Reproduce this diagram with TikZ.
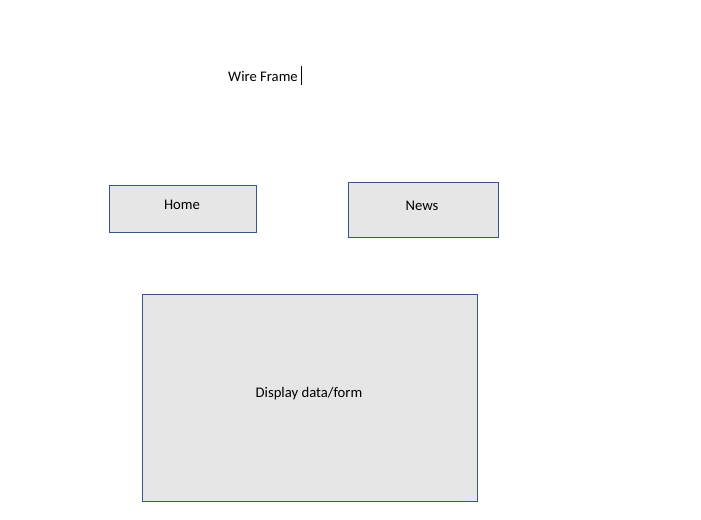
\documentclass[tikz,border=0pt]{standalone}
\usepackage{fontspec}
\setmainfont{Carlito}
\usetikzlibrary{positioning}

\definecolor{boxfill}{HTML}{E7E6E6}
\definecolor{boxline}{HTML}{3B5488}

\tikzset{
  framebox/.style={draw=boxline, fill=boxfill, line width=0.6pt, inner sep=0pt},
  caption/.style={font=\fontsize{11}{13}\selectfont, inner sep=0pt}
}

\begin{document}
\begin{tikzpicture}[x=0.75pt, y=-0.75pt]
\useasboundingbox (0,0) rectangle (701,520);
\node[caption] (title) at (263,76.5) {Wire Frame};
\draw[line width=0.6pt] (301,66)--(301,85);
\node[framebox, minimum width=110.25pt, minimum height=35.25pt] (home) at (182.5,208.5) {};
\node[caption] (hometext) at (182,204.5) {Home};
\node[framebox, minimum width=112.5pt, minimum height=41.25pt] (news) at (423,209.5) {};
\node[caption] (newstext) at (422,205.5) {News};
\node[framebox, minimum width=251.25pt, minimum height=155.25pt] (display) at (309.5,397.5) {};
\node[caption] (displaytext) at (309,393.5) {Display data/form};
\end{tikzpicture}
\end{document}
